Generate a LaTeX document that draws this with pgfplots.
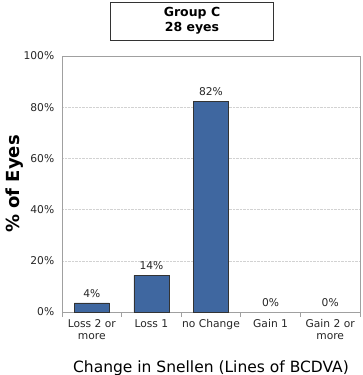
\documentclass[border=0pt]{standalone}
\usepackage{pgfplots}
\pgfplotsset{compat=1.18}
\usepackage{fontspec}
\setmainfont{DejaVu Sans}
\definecolor{barblue}{HTML}{3F67A0}
\definecolor{framegray}{HTML}{A0A0A0}
\begin{document}
\begin{tikzpicture}[x=1pt,y=1pt]
\path[use as bounding box] (-62,-63) rectangle (300,312);
\begin{axis}[
  at={(0,0)}, anchor=south west,
  scale only axis, width=298pt, height=256pt,
  xmin=-0.5, xmax=4.5, ymin=0, ymax=100,
  axis line style={framegray, line width=0.8pt},
  xtick={0,1,2,3,4},
  xticklabels={{Loss 2 or\\more},{Loss 1},{no Change},{Gain 1},{Gain 2 or\\more}},
  xticklabel style={align=center, font=\fontsize{10.7}{12}\selectfont, text=black!85},
  major x tick style={draw=none},
  minor xtick={-0.5,0.5,1.5,2.5,3.5,4.5},
  minor tick length=5pt,
  minor x tick style={framegray, line width=0.8pt},
  xtick pos=bottom, tick align=outside,
  ytick={0,20,...,100},
  yticklabel={\pgfmathprintnumber{\tick}\%},
  yticklabel style={font=\fontsize{10.7}{12}\selectfont, text=black!85},
  /pgf/number format/assume math mode=true,
  major y tick style={draw=none},
  ymajorgrids, grid style={densely dotted, gray!35},
  xlabel={Change in Snellen (Lines of BCDVA)},
  xlabel style={font=\fontsize{15.5}{17}\selectfont, yshift=-14pt},
  ylabel={\bfseries\% of Eyes},
  ylabel style={font=\fontsize{18}{20}\selectfont, yshift=-7pt},
  point meta=explicit symbolic,
  nodes near coords,
  nodes near coords style={font=\fontsize{10.7}{12}\selectfont, text=black!85, anchor=south, yshift=2pt},
]
\addplot[ybar, bar shift=0pt, bar width=35pt, fill=barblue, draw=black!80, line width=0.7pt]
  coordinates {(0,3.57) [4\%] (1,14.29) [14\%] (2,82.14) [82\%]};
\addplot[ybar, bar shift=0pt, bar width=35pt, fill=none, draw=none]
  coordinates {(3,0) [0\%] (4,0) [0\%]};
\end{axis}
\node[draw=black!80, line width=0.8pt, minimum width=163pt, minimum height=38pt, align=center,
  font=\fontsize{12.5}{15}\selectfont\bfseries, inner sep=0pt] at (130,291) {Group C\\28 eyes};
\end{tikzpicture}
\end{document}
